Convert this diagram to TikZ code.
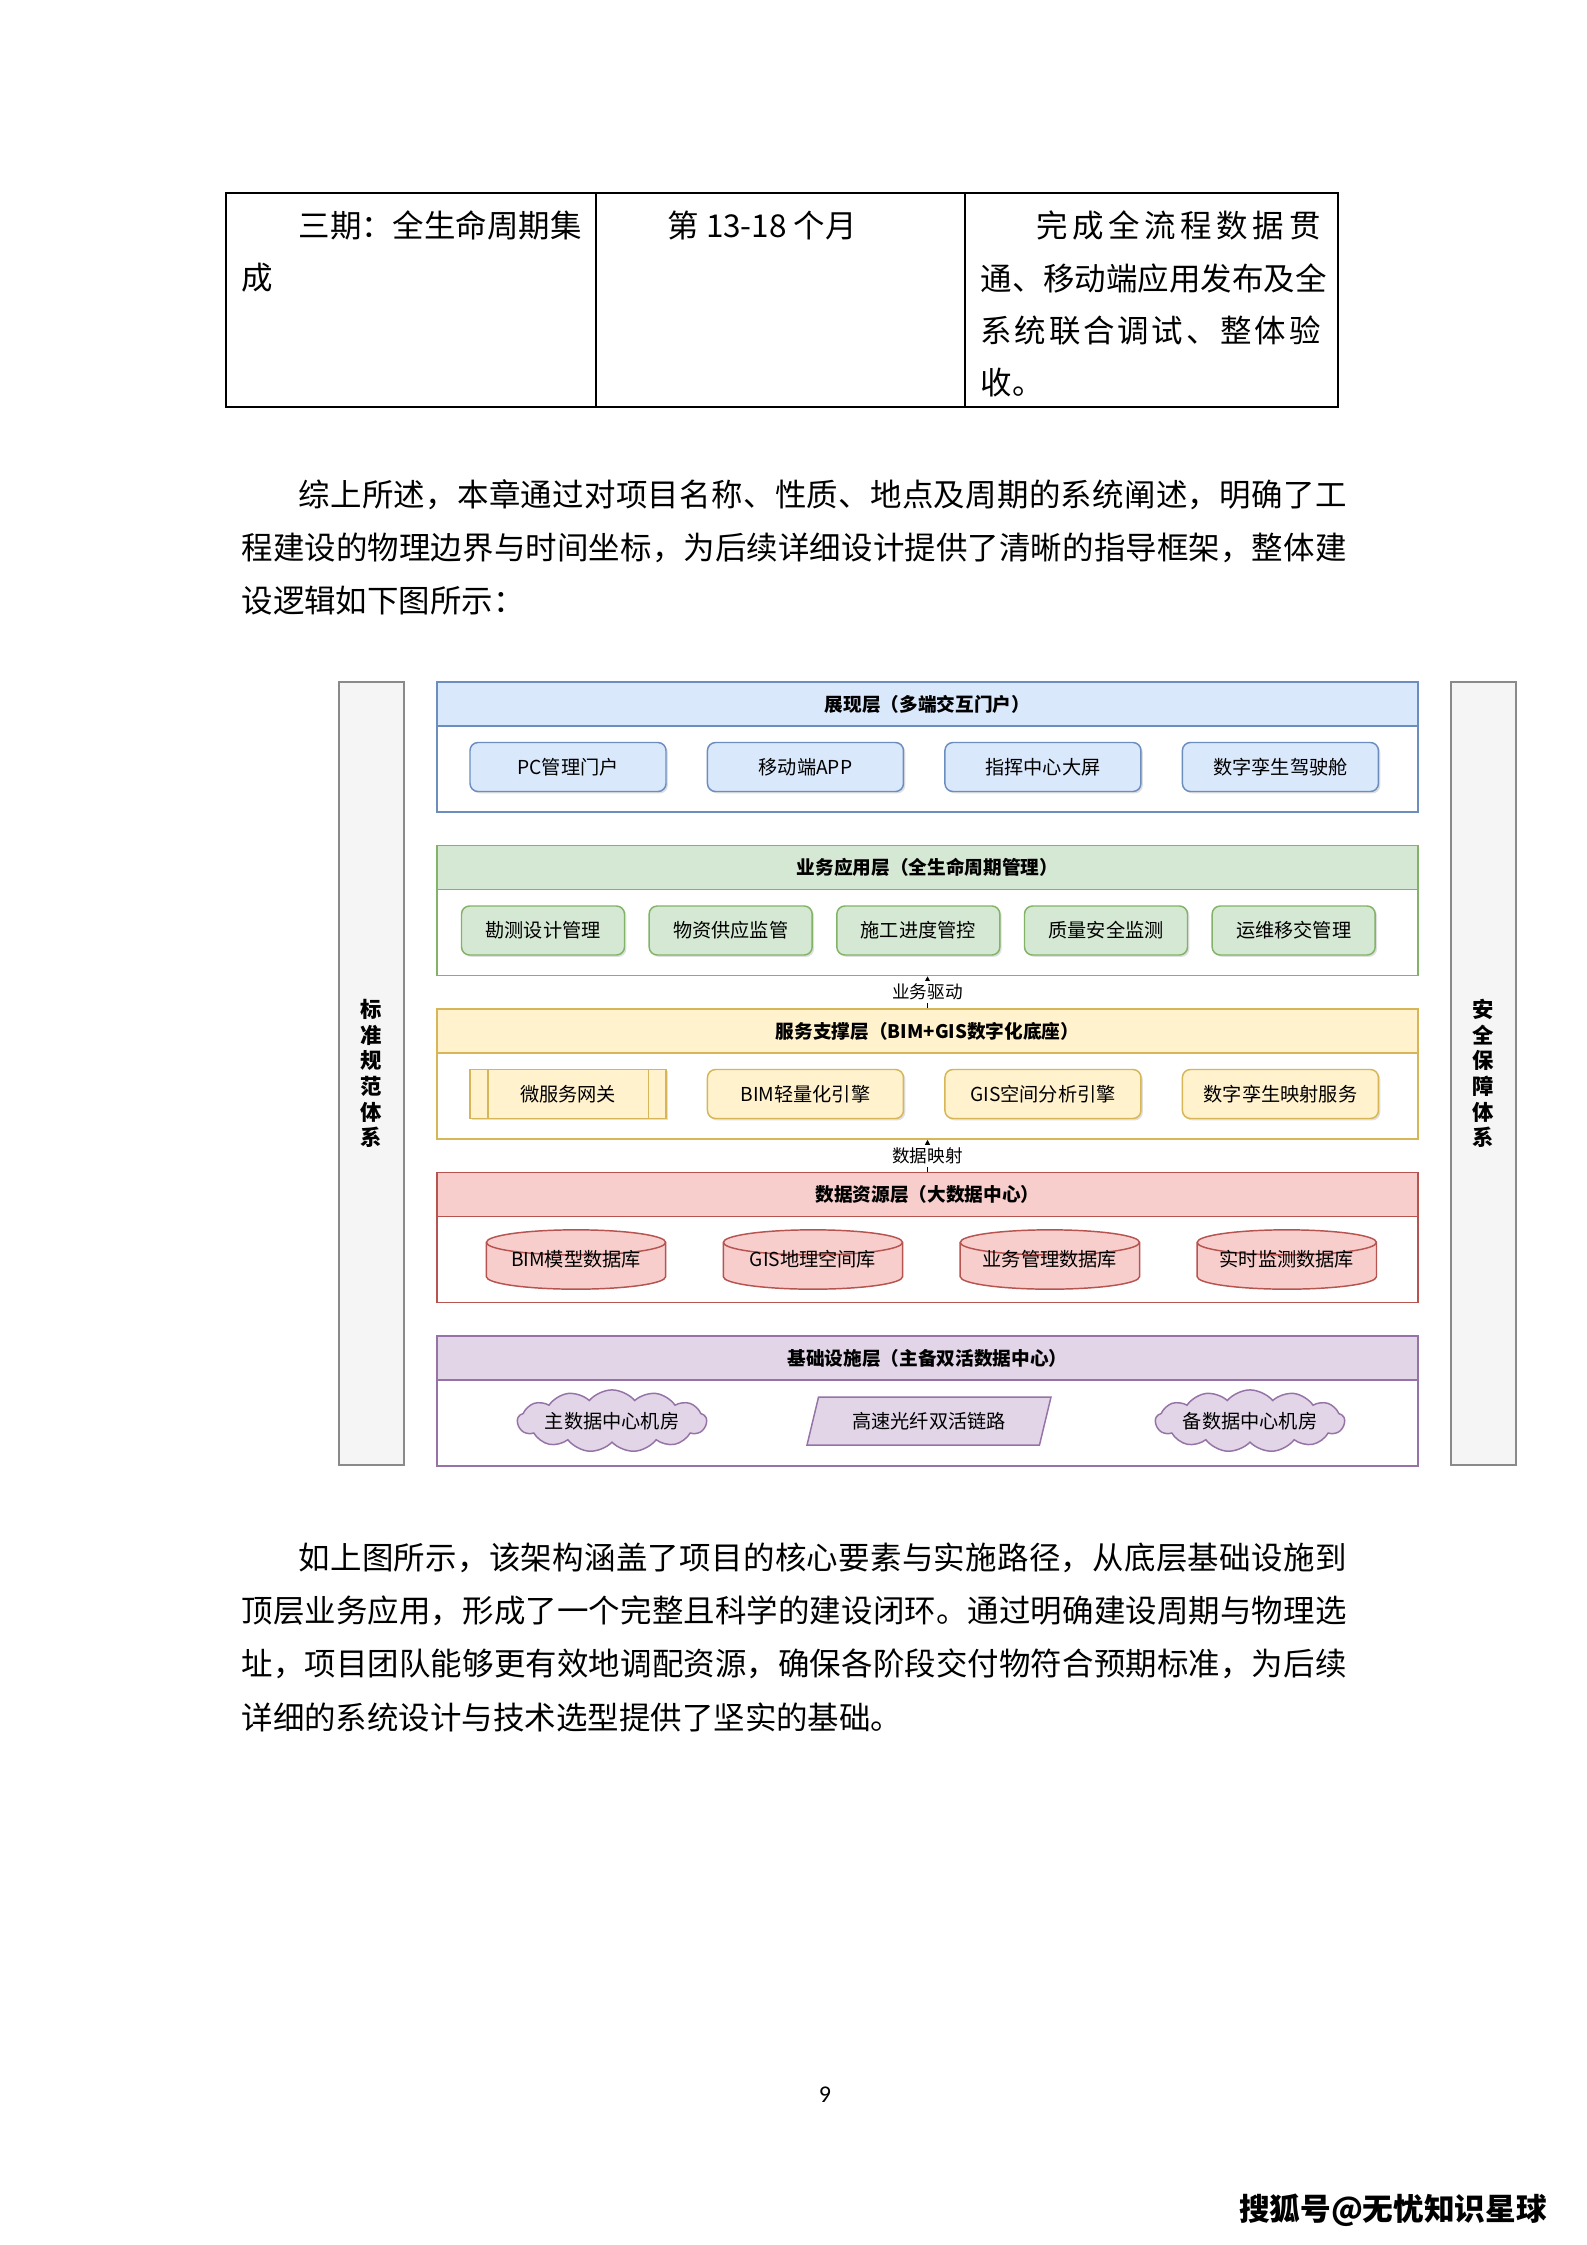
\documentclass[tikz,border=0pt]{standalone}
\usepackage{fontspec}
\usetikzlibrary{arrows.meta,positioning,shapes.geometric,shapes.symbols,shadows}
\newfontfamily\songti{Noto Sans CJK SC}
\newfontfamily\heiti{Noto Sans CJK SC}
\newfontfamily\pagefont{Carlito}
\definecolor{BlueFill}{HTML}{DAE8FC}
\definecolor{BlueLine}{HTML}{6C8EBF}
\definecolor{GreenFill}{HTML}{D5E8D4}
\definecolor{GreenLine}{HTML}{82B366}
\definecolor{YellowFill}{HTML}{FFF2CC}
\definecolor{YellowLine}{HTML}{D6B656}
\definecolor{RedFill}{HTML}{F8CECC}
\definecolor{RedLine}{HTML}{B85450}
\definecolor{PurpleFill}{HTML}{E1D5E7}
\definecolor{PurpleLine}{HTML}{9673A6}
\definecolor{SideFill}{HTML}{F5F5F5}
\definecolor{SideLine}{HTML}{8A8A8A}
% one pixel of the page
\def\pxu{0.375pt}
% spread the characters of a line over its box
\def\sprEnd{\sprEnd}
\def\spr#1{\sprA#1\sprEnd}
\def\sprA#1#2{#1\ifx\sprEnd#2\else\hfill\expandafter\sprA\expandafter#2\fi}
\tikzset{
  bodytext/.style={anchor=west, inner sep=0pt, font=\songti\fontsize{11.8}{14}\selectfont},
  tablerule/.style={line width=0.55pt, draw=black},
  sidebar/.style={
    draw=SideLine, fill=SideFill, line width=0.5pt, align=center,
    minimum width=65*\pxu, minimum height=783*\pxu, inner sep=0pt,
    font=\heiti\bfseries\fontsize{8}{9.6}\selectfont
  },
  layerhead/.style={
    line width=0.55pt, minimum width=981*\pxu, minimum height=44*\pxu,
    inner sep=0pt, font=\heiti\bfseries\fontsize{7}{8}\selectfont
  },
  layerbody/.style={
    line width=0.55pt, fill=white, minimum width=981*\pxu, minimum height=86*\pxu
  },
  blueset/.style={fill=BlueFill, draw=BlueLine},
  greenset/.style={fill=GreenFill, draw=GreenLine},
  yellowset/.style={fill=YellowFill, draw=YellowLine},
  redset/.style={fill=RedFill, draw=RedLine},
  purpleset/.style={fill=PurpleFill, draw=PurpleLine},
  item/.style={
    rounded corners=3pt, line width=0.55pt, inner sep=0pt,
    minimum width=196*\pxu, minimum height=49*\pxu,
    font=\heiti\fontsize{7.2}{8}\selectfont,
    drop shadow={shadow xshift=0.7pt, shadow yshift=-0.7pt, opacity=0.25}
  },
  smallitem/.style={item, minimum width=163*\pxu},
  procbox/.style={item, rounded corners=0pt},
  % database drum, drawn inside the node box
  dbcyl/.style={
    minimum width=182*\pxu, minimum height=62*\pxu, inner sep=0pt,
    font=\heiti\fontsize{7.2}{8}\selectfont,
    path picture={
      \filldraw[fill=RedFill, draw=RedLine, line width=0.55pt]
        ([shift={(0.5pt,-5.2pt)}]path picture bounding box.north west)
        -- ([shift={(0.5pt,5.2pt)}]path picture bounding box.south west)
        arc[start angle=180, end angle=360, x radius=33.625pt, y radius=4.7pt]
        -- ([shift={(-0.5pt,-5.2pt)}]path picture bounding box.north east)
        arc[start angle=0, end angle=180, x radius=33.625pt, y radius=4.7pt]
        -- cycle;
      \draw[RedLine, line width=0.55pt]
        ([shift={(0.5pt,-5.2pt)}]path picture bounding box.north west)
        arc[start angle=180, end angle=360, x radius=33.625pt, y radius=4.7pt];
    }
  },
  cloudbox/.style={
    cloud, cloud puffs=13, cloud puff arc=100, aspect=4.5, line width=0.55pt,
    minimum width=178*\pxu, minimum height=34*\pxu, inner sep=0pt,
    font=\heiti\fontsize{7.2}{8}\selectfont
  },
  linkbox/.style={
    trapezium, trapezium left angle=57, trapezium right angle=123,
    trapezium stretches body, line width=0.55pt,
    minimum width=244*\pxu, minimum height=48*\pxu, inner sep=0pt,
    font=\heiti\fontsize{7.2}{8}\selectfont
  },
  layerflow/.style={-{Triangle[length=3pt,width=3pt]}, line width=0.5pt, draw=black},
  flowlabel/.style={fill=white, inner sep=1pt, font=\heiti\fontsize{6.6}{7}\selectfont}
}

\begin{document}
\begin{tikzpicture}[x=0.375pt,y=-0.375pt,node distance=15pt]
\fill[white] (0,0) rectangle (1587,2245);
\useasboundingbox (0,0) rectangle (1587,2245);

% table row
\draw[tablerule] (226,193) rectangle (1338,407);
\draw[tablerule] (596,193) -- (596,407) (965,193) -- (965,407);
\node[bodytext] (c1a) at (298,225) {\hbox to 105pt{\spr{三期：全生命周期集}}};
\node[bodytext] (c1b) at (241,278) {成};
\node[bodytext] (c2a) at (667,225) {第 13-18 个月};
\node[bodytext] (c3a) at (1036,225) {\hbox to 106.5pt{\spr{完成全流程数据贯}}};
\node[bodytext] (c3b) at (980,278) {\hbox to 127.5pt{\spr{通、移动端应用发布及全}}};
\node[bodytext] (c3c) at (980,331) {\hbox to 127.5pt{\spr{系统联合调试、整体验}}};
\node[bodytext] (c3d) at (980,383) {收。};

% text above the figure
\node[bodytext] (p1a) at (298,495) {\hbox to 393pt{\spr{综上所述，本章通过对项目名称、性质、地点及周期的系统阐述，明确了工}}};
\node[bodytext] (p1b) at (241,548) {\hbox to 414.4pt{\spr{程建设的物理边界与时间坐标，为后续详细设计提供了清晰的指导框架，整体建}}};
\node[bodytext] (p1c) at (241,601) {设逻辑如下图所示：};

% side systems
\node[sidebar] (stdbar) at (371.5,1073.5) {标\\准\\规\\范\\体\\系};
\node[sidebar] (secbar) at (1483.5,1073.5) {安\\全\\保\\障\\体\\系};

% presentation layer
\node[layerbody,draw=BlueLine] (l1body) at (927.5,769) {};
\node[layerhead,blueset] (l1head) at (927.5,704) {展现层（多端交互门户）};
\node[item,blueset] (pc) at (568,767) {PC管理门户};
\node[item,blueset,right=of pc] (app) {移动端APP};
\node[item,blueset,right=of app] (screen) {指挥中心大屏};
\node[item,blueset,right=of screen] (cockpit) {数字孪生驾驶舱};

% application layer
\node[layerbody,draw=GreenLine] (l2body) at (927.5,932.5) {};
\node[layerhead,greenset] (l2head) at (927.5,867.5) {业务应用层（全生命周期管理）};
\node[smallitem,greenset] (survey) at (543,930.5) {勘测设计管理};
\node[smallitem,greenset,right=8.7pt of survey] (supply) {物资供应监管};
\node[smallitem,greenset,right=8.7pt of supply] (progress) {施工进度管控};
\node[smallitem,greenset,right=8.7pt of progress] (quality) {质量安全监测};
\node[smallitem,greenset,right=8.7pt of quality] (handover) {运维移交管理};

% service layer
\node[layerbody,draw=YellowLine] (l3body) at (927.5,1096) {};
\node[layerhead,yellowset] (l3head) at (927.5,1031) {服务支撑层（BIM+GIS数字化底座）};
\node[procbox,yellowset] (gateway) at (568,1094) {微服务网关};
\draw[YellowLine,line width=0.55pt] ([xshift=7.1pt]gateway.north west) -- ([xshift=7.1pt]gateway.south west)
  ([xshift=-6.8pt]gateway.north east) -- ([xshift=-6.8pt]gateway.south east);
\node[item,yellowset,right=of gateway] (bimeng) {BIM轻量化引擎};
\node[item,yellowset,right=of bimeng] (giseng) {GIS空间分析引擎};
\node[item,yellowset,right=of giseng] (twinsvc) {数字孪生映射服务};

% data layer
\node[layerbody,draw=RedLine] (l4body) at (927.5,1259.5) {};
\node[layerhead,redset] (l4head) at (927.5,1194.5) {数据资源层（大数据中心）};
\node[dbcyl] (bimdb) at (576,1259.5) {BIM模型数据库};
\node[dbcyl,right=20.2pt of bimdb] (gisdb) {GIS地理空间库};
\node[dbcyl,right=20.2pt of gisdb] (bizdb) {业务管理数据库};
\node[dbcyl,right=20.2pt of bizdb] (livedb) {实时监测数据库};

% infrastructure layer
\node[layerbody,draw=PurpleLine] (l5body) at (927.5,1423) {};
\node[layerhead,purpleset] (l5head) at (927.5,1358) {基础设施层（主备双活数据中心）};
\node[cloudbox,purpleset] (mainroom) at (612,1421) {主数据中心机房};
\node[linkbox,purpleset] (fibre) at (929,1421) {高速光纤双活链路};
\node[cloudbox,purpleset] (backroom) at (1250,1421) {备数据中心机房};

% links between layers
\draw[layerflow] (l3head.north) -- node[flowlabel] {业务驱动} (l2body.south);
\draw[layerflow] (l4head.north) -- node[flowlabel] {数据映射} (l3body.south);

% text below the figure
\node[bodytext] (p2a) at (298,1558) {\hbox to 393pt{\spr{如上图所示，该架构涵盖了项目的核心要素与实施路径，从底层基础设施到}}};
\node[bodytext] (p2b) at (241,1611) {\hbox to 414.4pt{\spr{顶层业务应用，形成了一个完整且科学的建设闭环。通过明确建设周期与物理选}}};
\node[bodytext] (p2c) at (241,1664) {\hbox to 414.4pt{\spr{址，项目团队能够更有效地调配资源，确保各阶段交付物符合预期标准，为后续}}};
\node[bodytext] (p2d) at (241,1717) {详细的系统设计与技术选型提供了坚实的基础。};

\node[font=\pagefont\fontsize{9}{10}\selectfont] (pagenum) at (825,2095) {9};
\node[font=\heiti\bfseries\fontsize{11.5}{13}\selectfont] (brand) at (1393,2210) {搜狐号@无忧知识星球};
\end{tikzpicture}
\end{document}
